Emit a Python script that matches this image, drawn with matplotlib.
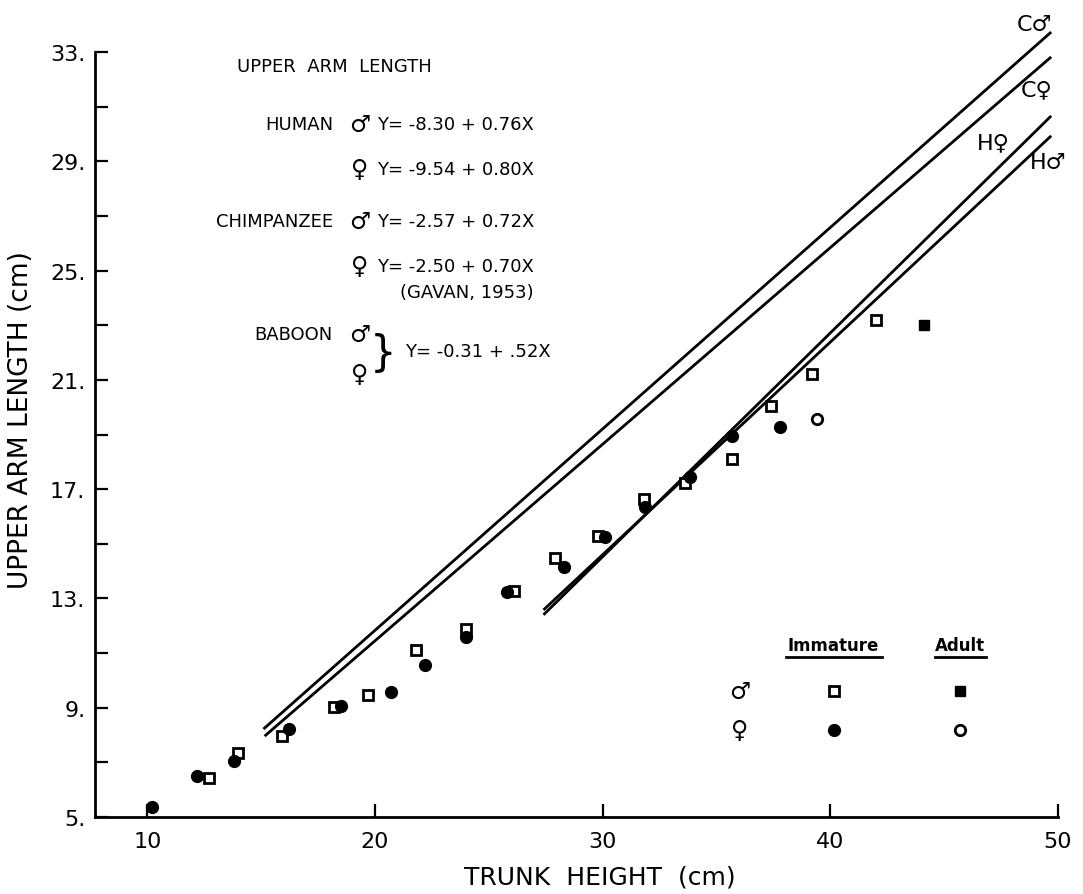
import matplotlib
matplotlib.use("Agg")
import matplotlib.pyplot as plt
from matplotlib.lines import Line2D

plt.rcParams['font.family'] = ['DejaVu Sans']

# ---------------- data ----------------
# regression lines as drawn
line_names = ["C\u2642", "C\u2640", "H\u2640", "H\u2642"]
line_x_start = [15.1, 15.15, 27.4, 27.4]
line_y_start = [8.22, 7.96, 12.40, 12.58]
line_x_end = [49.7, 49.7, 49.7, 49.7]
line_y_end = [33.73, 32.82, 30.66, 29.93]

# immature males (open squares)
imm_male_x = [12.7, 14.0, 15.9, 18.2, 19.7, 21.8, 24.0, 26.1, 27.9, 29.8, 31.8, 33.6, 35.7, 37.4, 39.2, 42.0]
imm_male_y = [6.43, 7.34, 7.96, 9.03, 9.47, 11.1, 11.88, 13.27, 14.48, 15.29, 16.64, 17.23, 18.1, 20.04, 21.2, 23.19]
# immature females (filled circles)
imm_fem_x = [10.2, 12.2, 13.8, 16.2, 18.5, 20.7, 22.2, 24.0, 25.8, 28.3, 30.1, 31.85, 33.85, 35.7, 37.8]
imm_fem_y = [5.37, 6.5, 7.05, 8.22, 9.06, 9.58, 10.56, 11.6, 13.24, 14.15, 15.25, 16.35, 17.45, 18.95, 19.27]
# adult males (filled squares)
adult_male_x = [44.1]
adult_male_y = [23.0]
# adult females (open circles)
adult_fem_x = [39.4]
adult_fem_y = [19.57]

x_ticks = [10, 20, 30, 40, 50]
x_tick_labels = ["10", "20", "30", "40", "50"]
y_major_ticks = [5, 9, 13, 17, 21, 25, 29, 33]
y_tick_labels = ["5.", "9.", "13.", "17.", "21.", "25.", "29.", "33."]
y_minor_ticks = [7, 11, 15, 19, 23, 27, 31]

equations = [
    ("HUMAN", "\u2642", "Y= -8.30 + 0.76X"),
    ("", "\u2640", "Y= -9.54 + 0.80X"),
    ("CHIMPANZEE", "\u2642", "Y= -2.57 + 0.72X"),
    ("", "\u2640", "Y= -2.50 + 0.70X"),
]

# ---------------- figure ----------------
fig = plt.figure(figsize=(10.83, 8.95), dpi=100)
ax = fig.add_axes([95/1083, 77/895, 963/1083, 765/895])

for x0, y0, x1, y1 in zip(line_x_start, line_y_start, line_x_end, line_y_end):
    ax.plot([x0, x1], [y0, y1], color='black', lw=2.0, solid_capstyle='butt', clip_on=False)

ms = 7.5
ax.plot(imm_male_x, imm_male_y, 's', ms=ms, mfc='white', mec='black', mew=2.0, ls='none')
ax.plot(imm_fem_x, imm_fem_y, 'o', ms=ms+1, mfc='black', mec='black', ls='none')
ax.plot(adult_male_x, adult_male_y, 's', ms=ms, mfc='black', mec='black', ls='none')
ax.plot(adult_fem_x, adult_fem_y, 'o', ms=ms, mfc='white', mec='black', mew=2.0, ls='none')

ax.set_xlim(7.7, 50)
ax.set_ylim(5, 33)
for s in ['top', 'right']:
    ax.spines[s].set_visible(False)
for s in ['left', 'bottom']:
    ax.spines[s].set_linewidth(2.0)

ax.set_xticks(x_ticks)
ax.set_xticklabels(x_tick_labels, fontsize=16)
ax.set_yticks(y_major_ticks)
ax.set_yticklabels(y_tick_labels, fontsize=16)
ax.set_yticks(y_minor_ticks, minor=True)
ax.tick_params(axis='both', which='both', direction='in', length=9.5, width=1.6)
ax.tick_params(axis='y', which='major', pad=7)
ax.tick_params(axis='x', which='major', pad=10)

ax.set_xlabel("TRUNK  HEIGHT  (cm)", fontsize=18, va='center')
ax.xaxis.set_label_coords(0.524, -0.078)
ax.set_ylabel("UPPER ARM LENGTH (cm)", fontsize=19, va='center', ha='center')
ax.yaxis.set_label_coords(-0.077, 0.52)

# equation block
T = ax.transAxes
ax.text(0.1475, 0.9817, "UPPER  ARM  LENGTH", transform=T, fontsize=13, va='center', ha='left')
rows_y = [0.906, 0.847, 0.779, 0.720]
sym_fs = 17
for (name, sym, eq), fy in zip(equations, rows_y):
    if name:
        ax.text(0.2471, fy, name, transform=T, fontsize=13, va='center', ha='right')
    ax.text(0.275, fy, sym, transform=T, fontsize=sym_fs, va='center', ha='center')
    ax.text(0.2928, fy, eq, transform=T, fontsize=13, va='center', ha='left')
ax.text(0.3167, 0.686, "(GAVAN, 1953)", transform=T, fontsize=13, va='center', ha='left')
ax.text(0.2471, 0.631, "BABOON", transform=T, fontsize=13, va='center', ha='right')
ax.text(0.275, 0.631, "\u2642", transform=T, fontsize=sym_fs, va='center', ha='center')
ax.text(0.275, 0.579, "\u2640", transform=T, fontsize=sym_fs, va='center', ha='center')
ax.text(0.299, 0.607, "}", transform=T, fontsize=30, va='center', ha='center')
ax.text(0.322, 0.609, "Y= -0.31 + .52X", transform=T, fontsize=13, va='center', ha='left')

# line labels
lab_pos = [(0.976, 1.0366), (0.978, 0.9516), (0.9325, 0.882), (0.9896, 0.856)]
for name, (fx, fy) in zip(line_names, lab_pos):
    ax.text(fx, fy, name, transform=T, fontsize=16, va='center', ha='center', clip_on=False)

# marker key
ax.text(0.767, 0.2248, "Immature", transform=T, fontsize=12, fontweight='bold', va='center', ha='center')
ax.text(0.898, 0.2248, "Adult", transform=T, fontsize=12, fontweight='bold', va='center', ha='center')
ax.add_line(Line2D([(786-95)/963, (882-95)/963], [0.209, 0.209], transform=T, color='black', lw=2))
ax.add_line(Line2D([(935-95)/963, (986-95)/963], [0.209, 0.209], transform=T, color='black', lw=2))
ax.text(0.6698, 0.1647, "\u2642", transform=T, fontsize=sym_fs, va='center', ha='center')
ax.text(0.6698, 0.1137, "\u2640", transform=T, fontsize=sym_fs, va='center', ha='center')
ax.plot([0.767], [0.1647], 's', transform=T, ms=ms, mfc='white', mec='black', mew=2.0)
ax.plot([0.898], [0.1647], 's', transform=T, ms=ms, mfc='black', mec='black')
ax.plot([0.767], [0.1137], 'o', transform=T, ms=ms+1, mfc='black', mec='black')
ax.plot([0.898], [0.1137], 'o', transform=T, ms=ms, mfc='white', mec='black', mew=2.0)

fig.savefig("out.png", dpi=100)
